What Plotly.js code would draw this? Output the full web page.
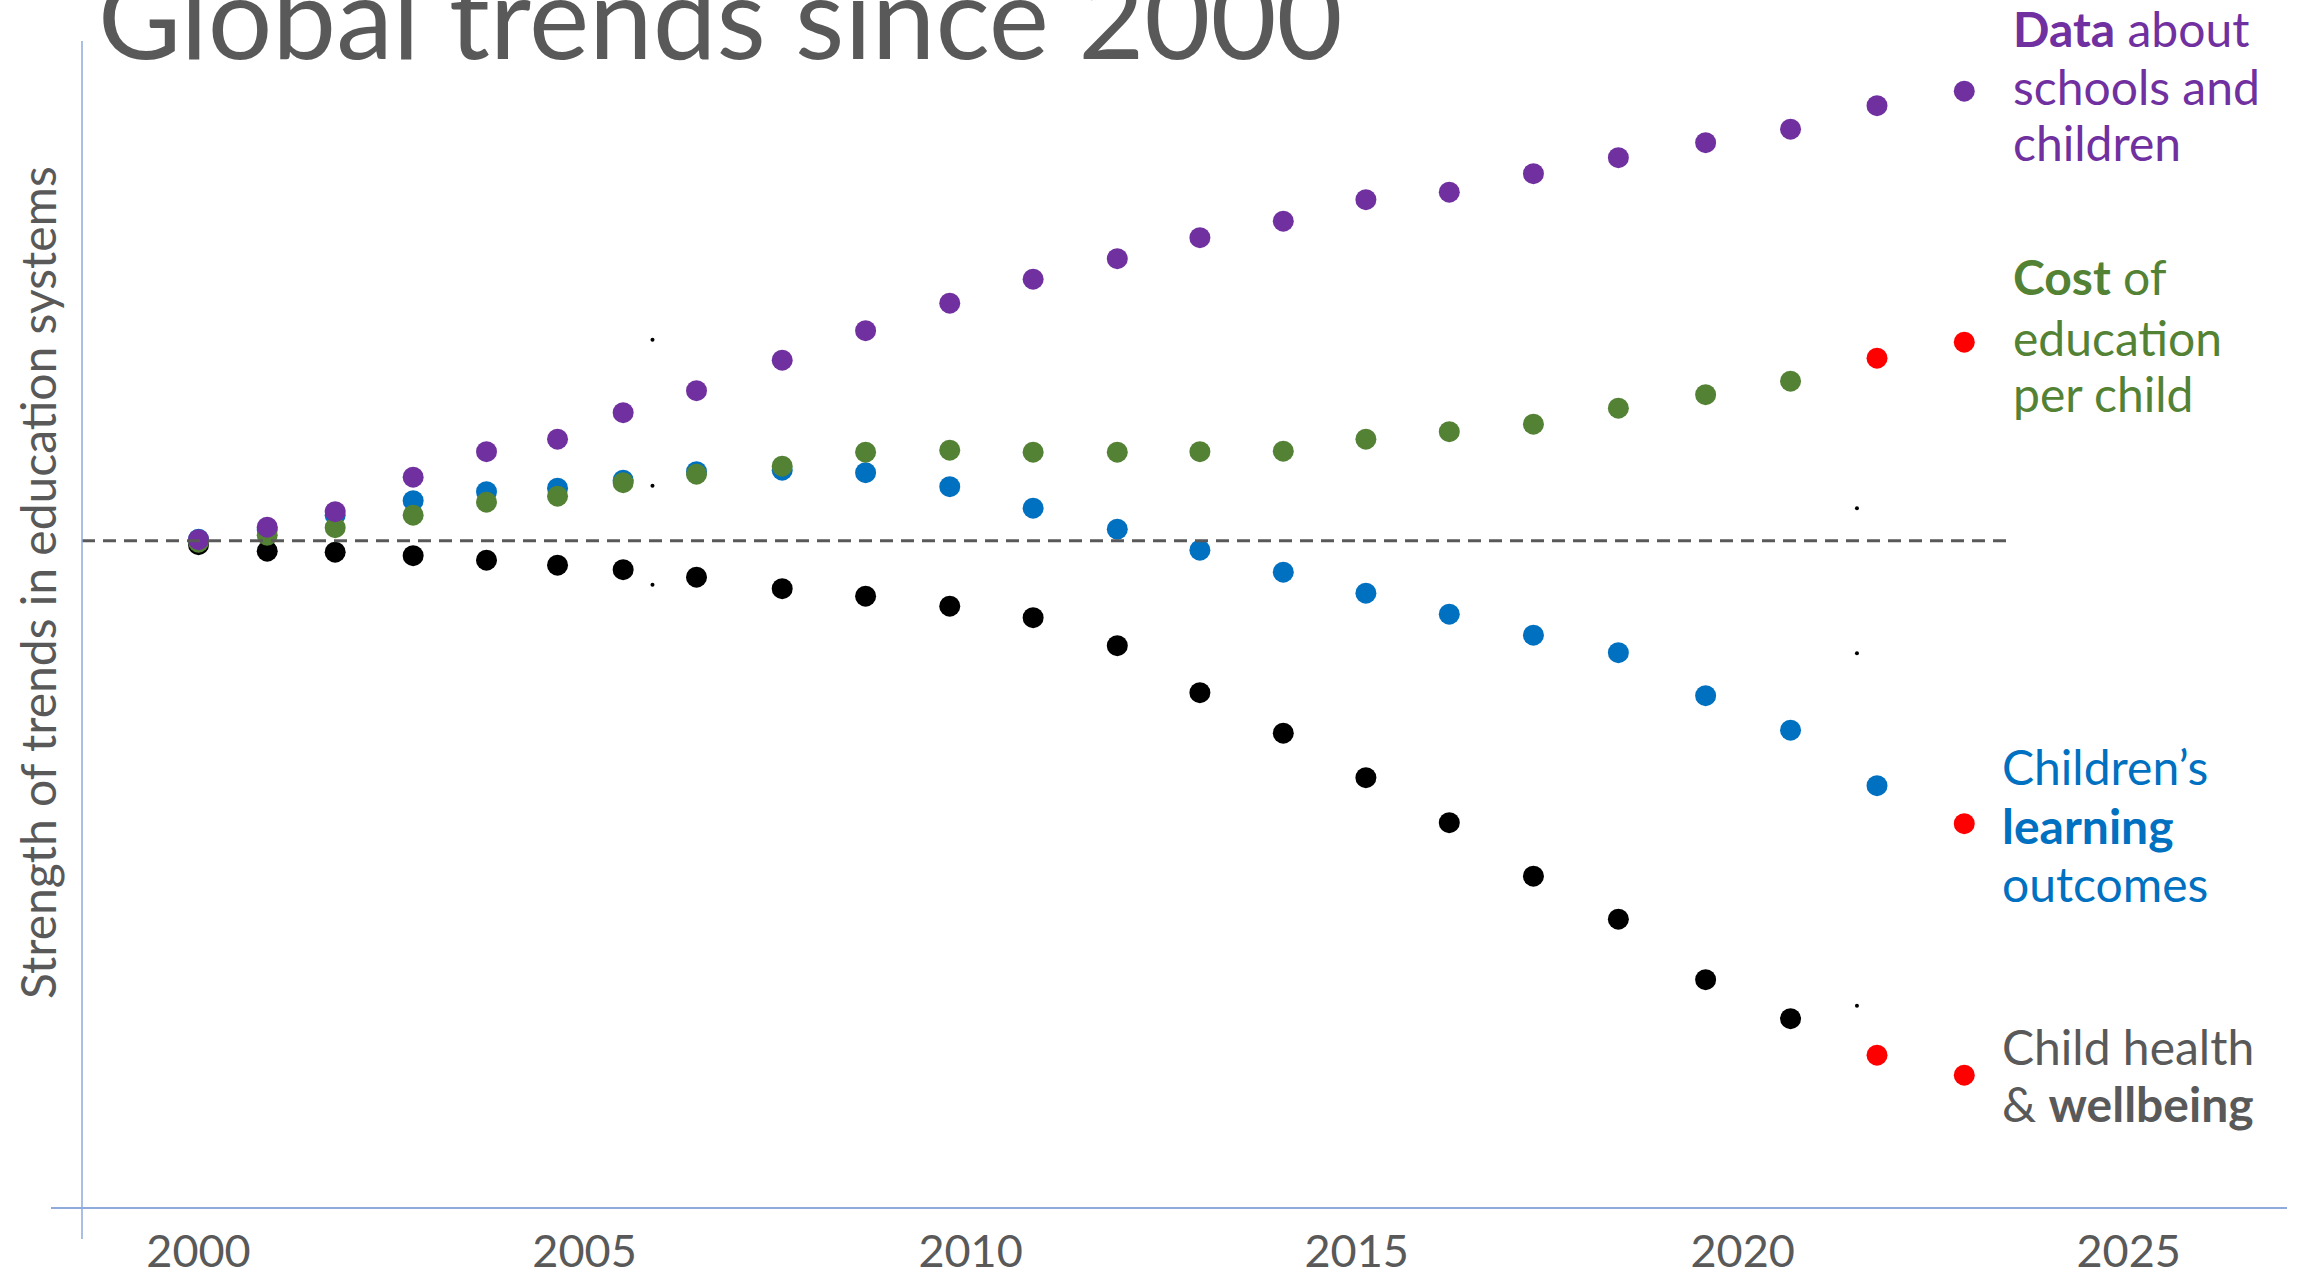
<!DOCTYPE html>
<html>
<head>
<meta charset="utf-8">
<script src="https://cdn.plot.ly/plotly-3.0.1.min.js"></script>
<style>
  html, body { margin: 0; padding: 0; background: #ffffff; }
  #chart { width: 2305px; height: 1280px; }
</style>
</head>
<body>
<div id="chart"></div>
<script>
// ---- Data ----
const years = [2000.0, 2000.89, 2001.77, 2002.78, 2003.73, 2004.65, 2005.5, 2006.45, 2007.56, 2008.64,
               2009.73, 2010.81, 2011.9, 2012.97, 2014.05, 2015.12, 2016.2, 2017.29, 2018.39, 2019.52,
               2020.62, 2021.74, 2022.87];

const dataSchools = [0.2, 2.7, 5.8, 12.7, 17.8, 20.3, 25.6, 30.0, 36.1, 42.0,
                     47.5, 52.3, 56.4, 60.6, 63.9, 68.2, 69.7, 73.4, 76.6, 79.6,
                     82.3, 87.0, 89.9];
const costPerChild = [-0.3, 1.1, 2.6, 5.1, 7.7, 8.9, 11.6, 13.3, 14.9, 17.7,
                      18.1, 17.7, 17.7, 17.8, 17.9, 20.3, 21.8, 23.3, 26.5, 29.2,
                      31.9, 36.5, 39.7];
const learningOutcomes = [0.3, 2.2, 5.1, 8.0, 9.8, 10.5, 12.1, 13.8, 14.1, 13.6,
                          10.8, 6.5, 2.3, -1.9, -6.3, -10.5, -14.7, -18.9, -22.4, -31.0,
                          -37.9, -49.0, -56.6];
const childHealth = [-0.8, -2.1, -2.3, -3.0, -3.9, -4.9, -5.8, -7.3, -9.6, -11.1,
                     -13.1, -15.4, -21.0, -30.4, -38.5, -47.4, -56.4, -67.1, -75.7, -87.8,
                     -95.6, -102.9, -106.9];
// index from which points of each series are shown in red
const redFrom = { schools: 23, cost: 21, learning: 22, health: 21 };

// small stray marks
const markYears = [2005.88, 2005.88, 2005.88, 2021.48, 2021.48, 2021.48];
const markValues = [40.2, 11.0, -8.8, 6.5, -22.5, -93.0];

const tickYears = [2000, 2005, 2010, 2015, 2020, 2025];
const baselineEnd = 2023.44;

const labelLines = {
  schools: ['<b>Data</b> about', 'schools and', 'children'],
  cost: ['<b>Cost</b> of', 'education', 'per child'],
  learning: ['Children\u2019s', '<b>learning</b>', 'outcomes'],
  health: ['Child health', '& <b>wellbeing</b>']
};
const titleText = 'Global trends since 2000';
const yTitleText = 'Strength of trends in education systems';

// ---- Styles ----
const C = { schools: '#7030A0', cost: '#548235', learning: '#0070C0', health: '#000000', red: '#FF0000', grey: '#595959', axis: '#8FAADC' };
const FONT = 'Lato, "Noto Sans", sans-serif';

function series(y, color, from) {
  return {
    type: 'scatter', mode: 'markers', x: years, y: y, hoverinfo: 'skip',
    marker: { size: 21, color: y.map((v, i) => i >= from ? C.red : color), line: { width: 0 } },
    cliponaxis: false
  };
}

const traces = [
  series(childHealth, C.health, redFrom.health),
  series(learningOutcomes, C.learning, redFrom.learning),
  series(costPerChild, C.cost, redFrom.cost),
  series(dataSchools, C.schools, redFrom.schools),
  { type: 'scatter', mode: 'markers', x: markYears, y: markValues, hoverinfo: 'skip',
    marker: { size: 4, color: '#000000' } }
];

const L = 82, R = 18, T = 41, B = 72;
const W = 2305, H = 1280;
const pw = W - L - R, ph = H - T - B;
const px = v => (v - L) / pw;     // page pixel -> paper x
const py = v => (H - B - v) / ph; // page pixel -> paper y

// label line layout (page pixels): left edge and line centres
const labelPos = {
  schools: { left: 2011, ys: [28, 86, 142], color: C.schools },
  cost: { left: 2011, ys: [277, 337, 393], color: C.cost },
  learning: { left: 2000, ys: [767, 826, 883], color: C.learning },
  health: { left: 2000, ys: [1046, 1103], color: C.grey }
};

const annotations = [
  { xref: 'paper', yref: 'paper', x: px(96), y: py(14), xanchor: 'left', yanchor: 'middle',
    text: titleText, showarrow: false, font: { family: FONT, size: 114, color: C.grey } },
  { xref: 'paper', yref: 'paper', x: px(37), y: py(583), xanchor: 'center', yanchor: 'middle',
    textangle: -90, text: yTitleText, showarrow: false, font: { family: FONT, size: 48, color: C.grey } }
];
Object.keys(labelLines).forEach(k => {
  const p = labelPos[k];
  labelLines[k].forEach((line, i) => {
    annotations.push({ xref: 'paper', yref: 'paper', x: px(p.left), y: py(p.ys[i]),
      xanchor: 'left', yanchor: 'middle', align: 'left', text: line, showarrow: false,
      font: { family: FONT, size: 48, color: p.color } });
  });
});

const layout = {
  width: W, height: H,
  margin: { l: L, r: R, t: T, b: B, pad: 0 },
  paper_bgcolor: '#ffffff', plot_bgcolor: '#ffffff',
  showlegend: false, hovermode: false,
  font: { family: FONT, color: C.grey },
  xaxis: {
    range: [1998.491, 2027.05], showgrid: false, zeroline: false, showline: false,
    tickvals: tickYears, ticktext: tickYears.map(String), ticks: '',
    ticklabelstandoff: 13,
    tickfont: { family: FONT, size: 45, color: C.grey }
  },
  yaxis: {
    range: [-133.46, 99.94], showgrid: false, zeroline: false, showline: false,
    showticklabels: false, ticks: ''
  },
  shapes: [
    { type: 'line', xref: 'x', yref: 'y', x0: 1998.491, x1: baselineEnd, y0: 0, y1: 0,
      line: { color: C.grey, width: 3, dash: '13px,8px' } },
    { type: 'line', xref: 'paper', yref: 'paper', x0: px(51), x1: 1, y0: 0, y1: 0,
      line: { color: C.axis, width: 2 } },
    { type: 'line', xref: 'paper', yref: 'paper', x0: 0, x1: 0, y0: py(1239), y1: 1,
      line: { color: C.axis, width: 1.5 } }
  ],
  annotations: annotations
};

Plotly.newPlot('chart', traces, layout, { staticPlot: true, displayModeBar: false });
</script>
</body>
</html>
